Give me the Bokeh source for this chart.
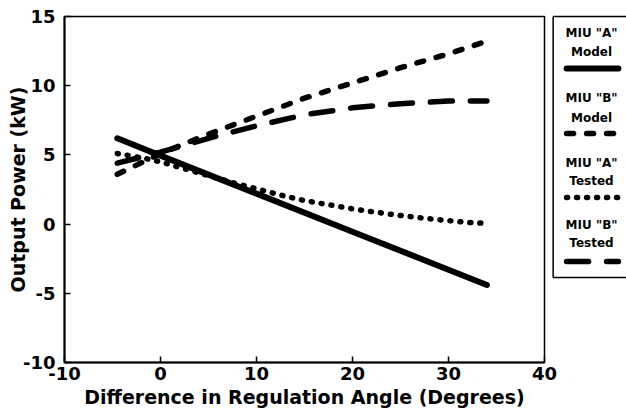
from bokeh.plotting import figure
from bokeh.models import Range1d, FixedTicker
from bokeh.core.properties import value
from bokeh.embed import file_html
from bokeh.resources import INLINE

FONT = "DejaVu Sans"

# Difference in regulation angle (degrees) vs. output power (kW)
angle_a_model = [-4.5, 0, 10, 20, 30, 34]
power_a_model = [6.2, 4.95, 2.2, -0.55, -3.3, -4.4]

angle_b_model = [-4.5, 0, 5, 10, 15, 20, 25, 30, 33.5]
power_b_model = [3.6, 5.1, 6.5, 7.8, 9.1, 10.2, 11.3, 12.3, 13.1]

angle_a_tested = [-4.5, -2, 0, 2.5, 5, 7.5, 10, 12.5, 15, 17.5, 20,
                  22.5, 25, 27.5, 30, 32, 34]
power_a_tested = [5.1, 4.8, 4.5, 4.0, 3.5, 3.0, 2.55, 2.1, 1.7, 1.4, 1.1,
                  0.85, 0.62, 0.42, 0.25, 0.12, 0.05]

angle_b_tested = [-4.5, 0, 5, 10, 15, 20, 25, 30, 34]
power_b_tested = [4.4, 5.2, 6.2, 7.1, 7.9, 8.4, 8.7, 8.9, 8.9]

x_ticks = [-10, 0, 10, 20, 30, 40]
x_tick_labels = ["-10", "0", "10", "20", "30", "40"]
y_ticks = [-10, -5, 0, 5, 10, 15]
y_tick_labels = ["-10", "-5", "0", "5", "10", "15"]

legend_line1 = ['MIU "A"', 'MIU "B"', 'MIU "A"', 'MIU "B"']
legend_line2 = ["Model", "Model", "Tested", "Tested"]

# line styles: solid, short dash, dots, long dash
styles = [
    dict(line_dash="solid", line_width=6),
    dict(line_dash="7 13", line_width=5.5),
    dict(line_dash="1 9", line_width=5.5),
    dict(line_dash="22 18", line_width=5.5),
]

p = figure(width=626, height=419, output_backend="svg", toolbar_location=None,
           x_range=Range1d(-10, 40), y_range=Range1d(-10, 15),
           min_border_left=64, min_border_right=82,
           min_border_top=16, min_border_bottom=57)

p.xgrid.visible = False
p.ygrid.visible = False
p.outline_line_color = "black"
p.outline_line_width = 1.5
p.background_fill_color = "white"
p.border_fill_color = "white"

for ax, ticks, labels in ((p.xaxis[0], x_ticks, x_tick_labels),
                          (p.yaxis[0], y_ticks, y_tick_labels)):
    ax.ticker = FixedTicker(ticks=ticks)
    ax.major_label_overrides = {t: l for t, l in zip(ticks, labels)}
    ax.major_tick_in = 6
    ax.major_tick_out = 0
    ax.minor_tick_line_color = None
    ax.axis_line_width = 2
    ax.major_tick_line_width = 1.5
    ax.major_label_text_font = FONT
    ax.major_label_text_font_style = "bold"
    ax.major_label_text_font_size = "18px"
    ax.major_label_text_color = "black"
    ax.axis_label_text_font = FONT
    ax.axis_label_text_font_style = "bold"
    ax.axis_label_text_font_size = "19px"
    ax.axis_label_text_color = "black"

p.xaxis.axis_label = "Difference in Regulation Angle (Degrees)"
p.xaxis.major_label_standoff = 4
p.xaxis.axis_label_standoff = 3
p.yaxis.axis_label = "Output Power (kW)"
p.yaxis.major_label_standoff = 9
p.yaxis.axis_label_standoff = -9

series = [
    (angle_a_model, power_a_model),
    (angle_b_model, power_b_model),
    (angle_a_tested, power_a_tested),
    (angle_b_tested, power_b_tested),
]
for (xs, ys), st in zip(series, styles):
    p.line(xs, ys, line_color="black", line_cap="round", **st)

# legend panel to the right of the plot area; it runs off the right edge
leg_left, leg_right, leg_top, leg_bottom = 40.9, 49.0, 15.0, -3.85
leg_cx = 44.9
sample_x0, sample_x1 = 42.3, 47.7
row_line1_y = [13.84, 9.08, 4.45, -0.10]
row_line2_y = [12.40, 7.70, 3.15, -1.40]
row_sample_y = [11.24, 6.55, 1.92, -2.70]

p.segment(x0=[leg_left, leg_left, leg_left], y0=[leg_top, leg_top, leg_bottom],
          x1=[leg_right, leg_left, leg_right], y1=[leg_top, leg_bottom, leg_bottom],
          line_color="black", line_width=1.5, level="overlay")

for st, sy in zip(styles, row_sample_y):
    p.line([sample_x0, sample_x1], [sy, sy], line_color="black",
           line_cap="round", level="overlay", **st)

p.text(x=[leg_cx] * 4, y=row_line1_y, text=legend_line1,
       text_font=value(FONT), text_font_style="bold", text_font_size="12px",
       text_align="center", text_baseline="middle", text_color="black",
       level="overlay")
p.text(x=[leg_cx] * 4, y=row_line2_y, text=legend_line2,
       text_font=value(FONT), text_font_style="bold", text_font_size="12px",
       text_align="center", text_baseline="middle", text_color="black",
       level="overlay")

open("out.html", "w").write(file_html(p, INLINE))
